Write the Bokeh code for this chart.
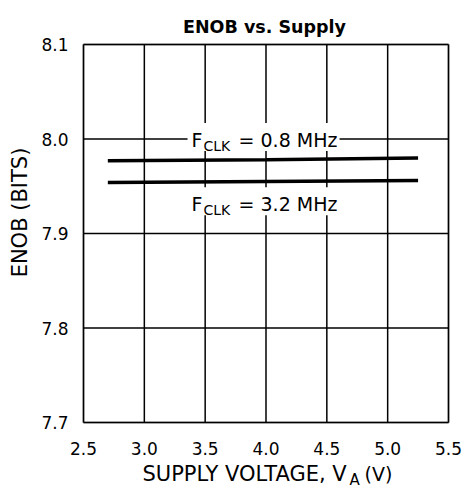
import math
from bokeh.plotting import figure
from bokeh.models import Range1d, Label, BoxAnnotation, ColumnDataSource
from bokeh.core.properties import value
from bokeh.embed import file_html
from bokeh.resources import INLINE

# ---- data ----
supply_v = [2.7, 4.0, 5.25]
enob_fclk_08 = [7.977, 7.978, 7.980]
enob_fclk_32 = [7.954, 7.955, 7.956]

x_ticks = [2.5, 3.0, 3.5, 4.0, 4.5, 5.0, 5.5]
x_tick_labels = ["2.5", "3.0", "3.5", "4.0", "4.5", "5.0", "5.5"]
y_ticks = [7.7, 7.8, 7.9, 8.0, 8.1]
y_tick_labels = ["7.7", "7.8", "7.9", "8.0", "8.1"]

title_text = "ENOB vs. Supply"
y_axis_title = "ENOB (BITS)"
x_axis_title = ("SUPPLY VOLTAGE, V", "A", "(V)")
series_labels = [("F", "CLK", "= 0.8 MHz"), ("F", "CLK", "= 3.2 MHz")]
series_label_pos = [(3.388, 8.0), (3.388, 7.932)]

# ---- layout (pixel geometry of the plotting box inside the canvas) ----
FONT = "DejaVu Sans"
W, H = 465, 489
FL, FR, FT, FB = 83, 448, 44, 422
X0, X1, Y0, Y1 = x_ticks[0], x_ticks[-1], y_ticks[0], y_ticks[-1]


def px2x(px):
    return X0 + (px - FL) / (FR - FL) * (X1 - X0)


def py2y(py):
    return Y1 - (py - FT) / (FB - FT) * (Y1 - Y0)


def x2px(x):
    return FL + (x - X0) / (X1 - X0) * (FR - FL)


def y2py(y):
    return FT + (Y1 - y) / (Y1 - Y0) * (FB - FT)


p = figure(width=W, height=H, output_backend="svg", toolbar_location=None,
           x_range=Range1d(px2x(0), px2x(W)), y_range=Range1d(py2y(H), py2y(0)),
           min_border=0)
p.title.visible = False
p.xaxis.visible = False
p.yaxis.visible = False
p.xgrid.visible = False
p.ygrid.visible = False
p.outline_line_color = None
p.background_fill_color = "white"
p.border_fill_color = "white"

# grid lines inside the plotting box
n_x, n_y = len(x_ticks), len(y_ticks)
p.segment(x0=x_ticks, y0=[Y0] * n_x, x1=x_ticks, y1=[Y1] * n_x,
          line_color="black", line_width=1.5)
p.segment(x0=[X0] * n_y, y0=y_ticks, x1=[X1] * n_y, y1=y_ticks,
          line_color="black", line_width=1.5)
# plotting box outline
p.add_layout(BoxAnnotation(left=X0, right=X1, bottom=Y0, top=Y1,
                           fill_alpha=0, line_color="black", line_width=2))

# white backgrounds behind the in-plot labels
for (main, sub, rest), (lx, ly) in zip(series_labels, series_label_pos):
    ax = x2px(lx)
    ay = y2py(ly) + 1
    p.quad(left=[px2x(ax - 4)], right=[px2x(ax + 148)],
           top=[py2y(ay - 17)], bottom=[py2y(ay + 11)],
           fill_color="white", line_color=None)

# data lines
p.line(supply_v, enob_fclk_08, line_color="black", line_width=3.5)
p.line(supply_v, enob_fclk_32, line_color="black", line_width=3.5)

# tick labels
xsrc = ColumnDataSource(dict(x=x_ticks, y=[Y0] * n_x, t=x_tick_labels))
p.text(x="x", y="y", text="t", source=xsrc, y_offset=26,
       text_align="center", text_baseline="alphabetic",
       text_font=value(FONT), text_font_size="17px", text_color="black")
ysrc = ColumnDataSource(dict(x=[X0] * n_y, y=y_ticks, t=y_tick_labels))
p.text(x="x", y="y", text="t", source=ysrc, x_offset=-15, y_offset=0,
       text_align="right", text_baseline="alphabetic",
       text_font=value(FONT), text_font_size="17px", text_color="black")

# title
p.add_layout(Label(x=(X0 + X1) / 2, x_offset=-1.5, y=Y1, y_offset=18, text=title_text,
                   text_align="center", text_baseline="alphabetic",
                   text_font=FONT, text_font_size="17.5px", text_font_style="bold",
                   text_color="black"))

# y axis title
p.add_layout(Label(x=X0, x_offset=-64, y=Y1, y_offset=-168, text=y_axis_title,
                   angle=math.pi / 2, text_align="center", text_baseline="middle",
                   text_font=FONT, text_font_size="21px", text_color="black"))

# x axis title with subscript
xl_base = -51
p.add_layout(Label(x=X0, y=Y0, x_offset=59, y_offset=xl_base, text=x_axis_title[0],
                   text_align="left", text_baseline="alphabetic",
                   text_font=FONT, text_font_size="21px", text_color="black"))
p.add_layout(Label(x=X0, y=Y0, x_offset=266, y_offset=xl_base - 6.5, text=x_axis_title[1],
                   text_align="left", text_baseline="alphabetic",
                   text_font=FONT, text_font_size="15px", text_color="black"))
p.add_layout(Label(x=X0, y=Y0, x_offset=281, y_offset=xl_base, text=x_axis_title[2],
                   text_align="left", text_baseline="alphabetic",
                   text_font=FONT, text_font_size="19px", text_color="black"))

# in-plot series labels
for (main, sub, rest), (lx, ly) in zip(series_labels, series_label_pos):
    p.add_layout(Label(x=lx, y=ly, y_offset=-1, text=main,
                       text_align="left", text_baseline="alphabetic",
                       text_font=FONT, text_font_size="19px", text_color="black"))
    p.add_layout(Label(x=lx, y=ly, x_offset=12, y_offset=-7, text=sub,
                       text_align="left", text_baseline="alphabetic",
                       text_font=FONT, text_font_size="14px", text_color="black"))
    p.add_layout(Label(x=lx, y=ly, x_offset=47, y_offset=-1, text=rest,
                       text_align="left", text_baseline="alphabetic",
                       text_font=FONT, text_font_size="19px", text_color="black"))

open("out.html", "w").write(file_html(p, INLINE))
